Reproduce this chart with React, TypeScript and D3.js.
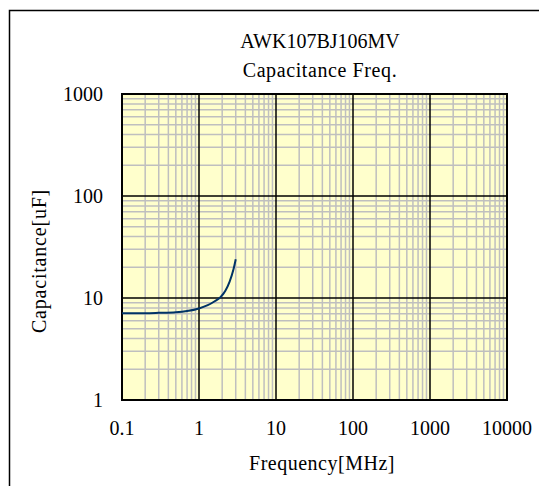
import { useEffect, useRef } from 'react';
import * as d3 from 'd3';

const title = ['AWK107BJ106MV', 'Capacitance Freq.'];
const xTicks = [0.1, 1, 10, 100, 1000, 10000];
const yTicks = [1, 10, 100, 1000];
const freqMHz = [0.1, 0.2, 0.3, 0.5, 0.7, 1.0, 1.3, 1.6, 1.9, 2.2, 2.5, 2.8, 3.0];
const capUF = [7.1, 7.1, 7.15, 7.25, 7.45, 7.9, 8.5, 9.3, 10.2, 11.8, 14.5, 19, 24];

const W = 539;
const H = 486;
const FONT = '"Liberation Serif", "Times New Roman", serif';

export default function App() {
  const ref = useRef<SVGSVGElement | null>(null);
  useEffect(() => {
    const svg = d3.select(ref.current!);
    svg.selectAll('*').remove();
    const m = { left: 122, right: 507, top: 94, bottom: 400 };

    svg.append('rect').attr('x', 9.5).attr('y', 10.5).attr('width', 700).attr('height', 700)
      .attr('fill', '#fff').attr('stroke', '#000').attr('stroke-width', 1.5);

    const x = d3.scaleLog().domain([0.1, 10000]).range([m.left, m.right]);
    const y = d3.scaleLog().domain([1, 1000]).range([m.bottom, m.top]);

    svg.append('rect').attr('x', m.left).attr('y', m.top).attr('width', m.right - m.left).attr('height', m.bottom - m.top)
      .attr('fill', '#ffffcc');

    // minor grid, 2..9 in every decade
    const minorX: number[] = [];
    for (let d = 0; d < xTicks.length - 1; d++) for (let k = 2; k <= 9; k++) minorX.push(xTicks[d] * k);
    const minorY: number[] = [];
    for (let d = 0; d < yTicks.length - 1; d++) for (let k = 2; k <= 9; k++) minorY.push(yTicks[d] * k);

    const g = svg.append('g');
    g.selectAll('.mx').data(minorX).enter().append('line')
      .attr('x1', (d) => x(d)).attr('x2', (d) => x(d)).attr('y1', m.top).attr('y2', m.bottom)
      .attr('stroke', '#bfbfbf').attr('stroke-width', 1.5);
    g.selectAll('.my').data(minorY).enter().append('line')
      .attr('y1', (d) => y(d)).attr('y2', (d) => y(d)).attr('x1', m.left).attr('x2', m.right)
      .attr('stroke', '#bfbfbf').attr('stroke-width', 1.5);
    g.selectAll('.Mx').data(xTicks).enter().append('line')
      .attr('x1', (d) => x(d)).attr('x2', (d) => x(d)).attr('y1', m.top).attr('y2', m.bottom)
      .attr('stroke', '#000').attr('stroke-width', 1.5);
    g.selectAll('.My').data(yTicks).enter().append('line')
      .attr('y1', (d) => y(d)).attr('y2', (d) => y(d)).attr('x1', m.left).attr('x2', m.right)
      .attr('stroke', '#000').attr('stroke-width', 1.5);

    svg.append('rect').attr('x', m.left).attr('y', m.top).attr('width', m.right - m.left).attr('height', m.bottom - m.top)
      .attr('fill', 'none').attr('stroke', '#000').attr('stroke-width', 2);

    const pts = freqMHz.map((f, i) => [f, capUF[i]] as [number, number]);
    const line = d3.line<[number, number]>().x((d) => x(d[0])).y((d) => y(d[1])).curve(d3.curveMonotoneX);
    svg.append('path').attr('d', line(pts)!).attr('fill', 'none').attr('stroke', '#003366').attr('stroke-width', 2);

    const fs = 20;
    svg.selectAll('.xt').data(xTicks).enter().append('text')
      .attr('x', (d) => x(d)).attr('y', 435).attr('text-anchor', 'middle')
      .attr('font-family', FONT).attr('font-size', fs).attr('fill', '#000')
      .text((d) => String(d));
    svg.selectAll('.yt').data(yTicks).enter().append('text')
      .attr('x', 103).attr('y', (d) => y(d) + 7).attr('text-anchor', 'end')
      .attr('font-family', FONT).attr('font-size', fs).attr('fill', '#000')
      .text((d) => String(d));

    title.forEach((t, i) => {
      svg.append('text').attr('x', 320).attr('y', 48 + i * 29).attr('text-anchor', 'middle')
        .attr('font-family', FONT).attr('font-size', fs).attr('fill', '#000')
        .attr('letter-spacing', i === 1 ? 0.6 : 0).text(t);
    });

    svg.append('text').attr('x', 322).attr('y', 470).attr('text-anchor', 'middle')
      .attr('font-family', FONT).attr('font-size', fs).attr('fill', '#000').attr('letter-spacing', 0.5).text('Frequency[MHz]');
    svg.append('text').attr('transform', 'translate(46,261) rotate(-90)').attr('text-anchor', 'middle')
      .attr('font-family', FONT).attr('font-size', fs).attr('fill', '#000').attr('letter-spacing', 0.8).text('Capacitance[uF]');
  }, []);
  return <svg ref={ref} width={W} height={H} style={{ position: 'absolute', left: 0, top: 0, display: 'block' }} />;
}
